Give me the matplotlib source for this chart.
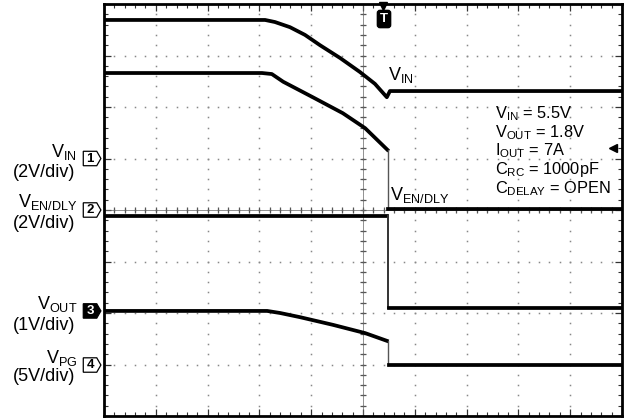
import numpy as np
import matplotlib
matplotlib.use("Agg")
import matplotlib.pyplot as plt
from matplotlib.patches import Polygon

plt.rcParams['font.family'] = ['Liberation Sans', 'DejaVu Sans']
plt.rcParams['mathtext.fontset'] = 'custom'
plt.rcParams['mathtext.rm'] = 'Liberation Sans'

# scope traces, in screen divisions (x: 0..10, y: 0..8 from bottom)
# upper V_IN trace
trace1_x = [0.0, 3.11, 3.30, 3.59, 3.88, 4.17, 4.56, 4.94, 5.23, 5.46, 5.52, 10.0]
trace1_y = [7.69, 7.69, 7.65, 7.55, 7.40, 7.20, 6.95, 6.68, 6.45, 6.19, 6.31, 6.31]
# lower V_IN trace, falls onto the EN/DLY level
trace2_x = [0.0, 3.05, 3.24, 3.46, 4.03, 4.61, 5.04, 5.47]
trace2_y = [6.66, 6.66, 6.64, 6.49, 6.19, 5.88, 5.59, 5.17]
trace2_edge_y = [5.17, 4.02]
trace2_tail_x = [5.49, 10.0]
trace2_tail_y = [4.02, 4.02]
# EN/DLY trace
trace3_x = [0.0, 5.46]
trace3_y = [3.88, 3.88]
trace3_edge_y = [3.88, 2.10]
trace3_tail_x = [5.50, 10.0]
trace3_tail_y = [2.10, 2.10]
# V_OUT / PG trace
trace4_x = [0.0, 3.15, 3.40, 3.78, 4.42, 5.04, 5.46]
trace4_y = [2.04, 2.04, 2.00, 1.92, 1.77, 1.61, 1.46]
trace4_edge_y = [1.46, 0.99]
trace4_tail_x = [5.50, 10.0]
trace4_tail_y = [0.99, 0.99]
edge_x = 5.48

# channel markers: (label, level, filled)
channels = [("1", 5.0, False), ("2", 4.0, False), ("3", 2.04, True), ("4", 0.99, False)]
left_labels = [
    (r"V$_{\mathregular{IN}}$", "(2V/div)", 157, 177),
    (r"V$_{\mathregular{EN/DLY}}$", "(2V/div)", 207, 228),
    (r"V$_{\mathregular{OUT}}$", "(1V/div)", 309, 330),
    (r"V$_{\mathregular{PG}}$", "(5V/div)", 363, 381),
]
conditions = [
    r"V$_{\mathregular{IN}}$ = 5.5V",
    r"V$_{\mathregular{OUT}}$ = 1.8V",
    r"I$_{\mathregular{OUT}}$ = 7A",
    r"C$_{\mathregular{RC}}$ = 1000pF",
    r"C$_{\mathregular{DELAY}}$ = OPEN",
]

W, H = 624, 420
fig = plt.figure(figsize=(W / 100, H / 100), dpi=100)
ax = fig.add_axes([104 / W, 4 / H, 518 / W, 412 / H])
ax.set_xlim(0, 10)
ax.set_ylim(0, 8)


def fx(px):
    return px / W


def fy(py):
    return 1 - py / H


# graticule: dotted lines plus centre axes with ticks
minor = np.arange(0, 10.01, 0.2)
minor_y = np.arange(0, 8.01, 0.2)
for gx in range(1, 10):
    ax.plot([gx] * len(minor_y), minor_y, ls='none', marker='s', ms=1.1,
            color='#888888', mec='none')
for gy in range(1, 8):
    ax.plot(minor, [gy] * len(minor), ls='none', marker='s', ms=1.1,
            color='#888888', mec='none')
ax.plot([5] * len(minor_y), minor_y, ls='none', marker='_', ms=5,
        mew=0.9, color='#555555')
ax.plot(minor, [4] * len(minor), ls='none', marker='|', ms=5,
        mew=0.9, color='#555555')
ax.axvline(5, color='#666666', lw=0.5)
ax.axhline(4, color='#666666', lw=0.5)

ax.set_xticks(np.arange(0, 10.01, 1))
ax.set_yticks(np.arange(0, 8.01, 1))
ax.set_xticks(minor, minor=True)
ax.set_yticks(minor_y, minor=True)
ax.tick_params(which='both', direction='in', top=True, right=True,
               labelbottom=False, labelleft=False, color='#333333')
ax.tick_params(which='major', length=5, width=0.9)
ax.tick_params(which='minor', length=3, width=0.8)
for s in ax.spines.values():
    s.set_linewidth(2)

# traces
lw = 2.7
ax.plot(trace1_x, trace1_y, color='black', lw=lw, solid_joinstyle='round')
ax.plot(trace2_x, trace2_y, color='black', lw=lw, solid_joinstyle='round')
ax.plot([edge_x, edge_x], trace2_edge_y, color='#555555', lw=1.0)
ax.plot(trace2_tail_x, trace2_tail_y, color='black', lw=lw)
ax.plot(trace3_x, trace3_y, color='black', lw=lw)
ax.plot([edge_x, edge_x], trace3_edge_y, color='#333333', lw=1.4)
ax.plot(trace3_tail_x, trace3_tail_y, color='black', lw=lw)
ax.plot(trace4_x, trace4_y, color='black', lw=lw, solid_joinstyle='round')
ax.plot([edge_x, edge_x], trace4_edge_y, color='#555555', lw=1.0)
ax.plot(trace4_tail_x, trace4_tail_y, color='black', lw=lw)

# channel markers left of the screen
for label, level, filled in channels:
    pts = [(-0.40, level - 0.14), (-0.14, level - 0.14), (-0.06, level),
           (-0.14, level + 0.14), (-0.40, level + 0.14)]
    ax.add_patch(Polygon(pts, closed=True, clip_on=False, lw=0.9,
                         ec='black', fc='black' if filled else 'white'))
    ax.text(-0.27, level, label, ha='center', va='center', fontsize=9.5,
            fontweight='bold', color='white' if filled else 'black',
            clip_on=False)

for name, scale, yb1, yb2 in left_labels:
    fig.text(fx(77), fy(yb1), name, ha='right', va='baseline', fontsize=13)
    fig.text(fx(75), fy(yb2), scale, ha='right', va='baseline', fontsize=13)

# in-screen labels
fig.text(fx(388), fy(80), r"V$_{\mathregular{IN}}$", va='baseline', fontsize=13)
fig.text(fx(390), fy(200), r"V$_{\mathregular{EN/DLY}}$", va='baseline', fontsize=13)
for i, line in enumerate(conditions):
    fig.text(fx(495), fy(118 + 18.8 * i), line, va='baseline', fontsize=11.8)

# trigger position and level markers
fig.text(fx(384), fy(19), "T", ha='center', va='center', fontsize=9.5,
         fontweight='bold', color='white',
         bbox=dict(boxstyle='round,pad=0.2', fc='black', ec='black'))
ax.plot([5.39], [7.96], marker='v', ms=6, color='black', clip_on=False)
ax.plot([9.83], [5.2], marker='<', ms=6, color='black', clip_on=False)

fig.savefig("out.png", dpi=100)
